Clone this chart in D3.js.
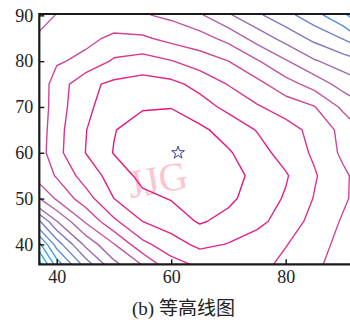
<!DOCTYPE html>
<html><head><meta charset="utf-8">
<script src="https://cdn.jsdelivr.net/npm/d3@7"></script>
<style>body{margin:0;background:#fff}svg{display:block}</style>
</head><body>
<svg id="c" width="350" height="322"></svg>
<script>
// grid nodes (data units)
const gridX = [35,40,45,50,55,60,65,70,75,80,85,90,95];
const gridY = [30,35,40,45,50,55,60,65,70,75,80,85,90,95];
// field values, one row per gridY (bottom to top), x = 35..95
const row30 = [-8,-3,0,2.5,4.5,6,7,7.5,7.5,7.2,6.8,6.3,5.8];
const row35 = [-5.5,-0.85,2.15,4.55,5.85,7.5,8.05,8.5,8.3,7.7,7.15,6.6,6.0];
const row40 = [-3,1.45,4.25,5.95,7.75,8.55,9.25,8.95,8.55,8.05,7.4,6.7,6.0];
const row45 = [0.5,3.95,6.1,7.8,9.0,9.5,10.1,9.7,9.25,8.6,7.65,6.9,6.0];
const row50 = [4.2,6.15,7.55,9.0,9.75,10.05,10.4,10.2,9.55,8.9,7.95,7.15,6.4];
const row55 = [5.85,7.1,8.45,9.4,10.3,10.7,10.6,10.35,9.75,9.1,8.1,7.2,6.3];
const row60 = [5.8,7.7,9.0,10.05,10.6,10.8,10.6,10.1,9.4,8.6,7.85,6.8,5.8];
const row65 = [5.7,7.65,8.95,9.95,10.5,10.7,10.2,9.6,8.95,8.4,7.7,6.7,5.6];
const row70 = [5.6,7.55,8.75,9.6,9.9,9.95,9.4,8.75,8.1,7.55,7.05,5.8,4.9];
const row75 = [5.9,7.4,8.75,9.2,9.4,9.25,8.7,7.95,7.3,6.4,5.6,4.6,4.0];
const row80 = [6.0,6.9,7.2,8.15,8.4,8.05,7.5,7.0,6.1,5.1,4.1,3.5,2.8];
const row85 = [5.9,6.5,6.8,7.15,7.15,6.7,6.4,5.7,4.6,3.65,2.75,1.95,0.4];
const row90 = [5.3,6.05,6.4,6.5,6.1,5.8,5.15,4.15,3.2,2.35,1.4,0.2,-1];
const row95 = [4.8,5.5,5.9,6.0,5.6,5.0,4.2,3.2,2.3,1.3,0.3,-1,-2];

const levels = [-4,-3,-2,-1,0,1,2,3,4,5,6,7,8,9,10];
const levelColors = ["#10bcee","#18b8ec","#26b0e6","#38a6e0","#4a9bd9","#5a90d2","#6e84c8","#8478be","#9a6db5","#ae63aa","#c2569f","#d04597","#db3290","#e22287","#e8147f"];

const xTicks = [40,60,80];
const yTicks = [40,50,60,70,80,90];
const star = [[61.2,60.0]];
const caption = "(b) 等高线图";
const watermark = "JJG";

const svg = d3.select("#c");
const L = 39.3, R = 352, T = 14, B = 264.3;
const x = d3.scaleLinear().domain([36.96, 91.23]).range([L, 350]);
const y = d3.scaleLinear().domain([35.65, 90.3]).range([B, T]);

svg.append("rect").attr("width",350).attr("height",322).attr("fill","#fff");

svg.append("defs").append("clipPath").attr("id","clip")
  .append("rect").attr("x",L).attr("y",T).attr("width",R-L).attr("height",B-T);

// watermark
svg.append("text")
  .attr("transform","translate(160,193) rotate(-10)")
  .attr("text-anchor","middle")
  .attr("font-family","Liberation Serif")
  .attr("font-size",40)
  .attr("fill","#fbc6cf")
  .text(watermark);

const values = [row30,row35,row40,row45,row50,row55,row60,row65,row70,row75,row80,row85,row90,row95].flat();
const nx = gridX.length, ny = gridY.length;
const dx = gridX[1]-gridX[0], dy = gridY[1]-gridY[0];
const contours = d3.contours().size([nx, ny]).thresholds(levels)(values);
const proj = d3.geoTransform({point(px, py){
  this.stream.point(x(gridX[0] + (px-0.5)*dx), y(gridY[0] + (py-0.5)*dy));
}});
const path = d3.geoPath(proj);

svg.append("g").attr("clip-path","url(#clip)")
  .selectAll("path").data(contours).join("path")
  .attr("d", path)
  .attr("fill","none")
  .attr("stroke", d => levelColors[levels.indexOf(d.value)])
  .attr("stroke-width",1.4)
  .attr("stroke-linejoin","round");

// star marker
svg.append("g").selectAll("path").data(star).join("path")
  .attr("transform", d => `translate(${x(d[0])},${y(d[1])})`)
  .attr("d", d3.symbol(d3.symbolStar, 50)())
  .attr("fill","none").attr("stroke","#3e3e9e").attr("stroke-width",1);

// axes
const fontFam = "Liberation Serif";
const gx = svg.append("g").attr("transform",`translate(0,${B})`)
  .call(d3.axisBottom(x).tickValues(xTicks).tickSizeInner(-5).tickSizeOuter(0).tickPadding(6));
const gy = svg.append("g").attr("transform",`translate(${L},0)`)
  .call(d3.axisLeft(y).tickValues(yTicks).tickSizeInner(-5).tickSizeOuter(0).tickPadding(6));
[gx,gy].forEach(g=>{
  g.select(".domain").remove();
  g.selectAll("line").attr("stroke","#111").attr("stroke-width",1.4);
  g.selectAll("text").attr("font-family",fontFam).attr("font-size",18).attr("fill","#222");
});

// frame
svg.append("path")
  .attr("d",`M${R},${T}H${L}V${B}H${R}`)
  .attr("fill","none").attr("stroke","#1a1a1a").attr("stroke-width",2.2);

// caption
svg.append("text").attr("x",132).attr("y",315)
  .attr("font-family","Liberation Serif, Noto Sans CJK SC")
  .attr("font-size",19).attr("fill","#222").text(caption);
</script>
</body></html>
